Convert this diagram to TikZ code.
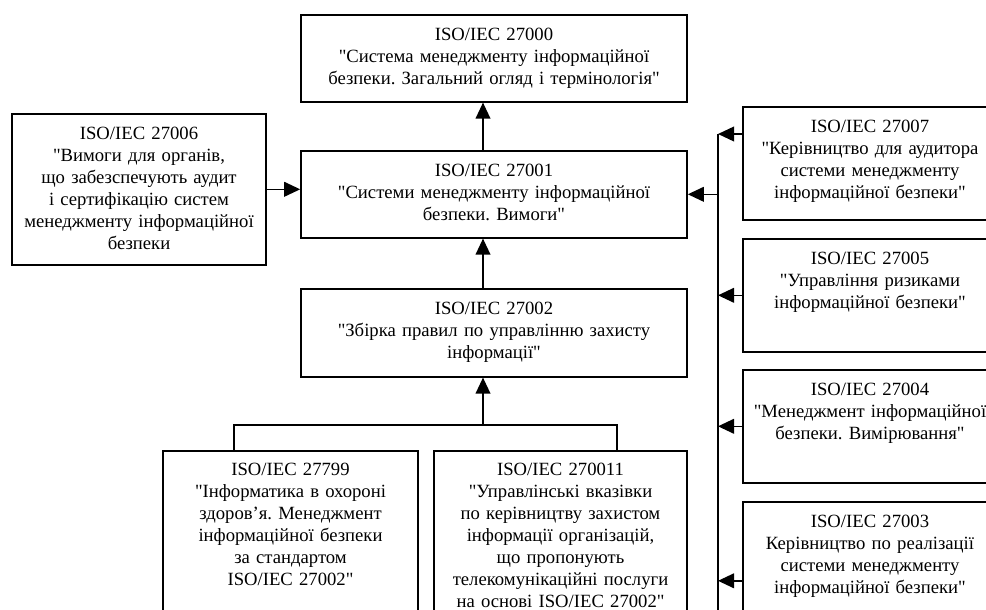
\documentclass[tikz,border=0pt]{standalone}
\usepackage{fontspec}
\newfontfamily\lserif{Liberation Serif}
\usepackage{tikz}
\usetikzlibrary{arrows.meta,positioning}
\frenchspacing

\begin{document}
\begin{tikzpicture}[
    x=0.75pt, y=-0.75pt,
    every node/.style={font=\lserif\fontsize{14}{16.5}\selectfont},
    box/.style={draw, line width=1.2pt, anchor=north, align=center, inner sep=0pt, text height=19.5pt},
    mid/.style={box, text width=289.5pt},
    side/.style={box, text width=190.5pt, text depth=65.25pt},
    low/.style={box, text height=18.75pt, text depth=131pt},
    line/.style={line width=1.2pt},
    arrow/.style={line, -{Triangle[length=12pt, width=11pt]}}
]
\path[use as bounding box, clip] (0,0) rectangle (986,610);
% central column
\node[mid, text depth=45.75pt] (n27000) at (494,14) {ISO/IEC 27000\\"Система менеджменту інформаційної\\безпеки. Загальний огляд і термінологія"};
\node[mid, text depth=45.75pt] (n27001) at (494,150) {ISO/IEC 27001\\"Системи менеджменту інформаційної\\безпеки. Вимоги"};
\node[mid, text depth=46.5pt] (n27002) at (494,288) {ISO/IEC 27002\\"Збірка правил по управлінню захисту\\інформації"};
% left
\node[box, text width=190.5pt, text depth=93.75pt] (n27006) at (139,113) {ISO/IEC 27006\\"Вимоги для органів,\\що забезспечують аудит\\і сертифікацію систем\\менеджменту інформаційної\\безпеки};
% right column
\node[side] (n27007) at (870,106) {ISO/IEC 27007\\"Керівництво для аудитора\\системи менеджменту\\інформаційної безпеки"};
\node[side] (n27005) at (870,238) {ISO/IEC 27005\\"Управління ризиками\\інформаційної безпеки"};
\node[side] (n27004) at (870,369) {ISO/IEC 27004\\"Менеджмент інформаційної\\безпеки. Вимірювання"};
\node[side, text depth=99pt] (n27003) at (870,501) {ISO/IEC 27003\\Керівництво по реалізації\\системи менеджменту\\інформаційної безпеки"};
% bottom row
\node[low, text width=191.25pt] (n27799) at (290.5,450) {ISO/IEC 27799\\"Інформатика в охороні\\здоров’я. Менеджмент\\інформаційної безпеки\\за стандартом\\ISO/IEC 27002"};
\node[low, text width=189.75pt] (n270011) at (560.5,450) {ISO/IEC 270011\\"Управлінські вказівки\\по керівництву захистом\\інформації організацій,\\що пропонують\\телекомунікаційні послуги\\на основі ISO/IEC 27002"};
\coordinate (join) at (483,425);
\coordinate (bus) at (718,134);
\coordinate (busend) at (718,620);
% connectors
\draw[arrow] ([xshift=-8.25pt]n27001.north) -- ([xshift=-8.25pt]n27000.south);
\draw[arrow] ([xshift=-8.25pt]n27002.north) -- ([xshift=-8.25pt]n27001.south);
\draw[arrow] (n27006.east) -- (n27006.east -| n27001.west);
\draw[line] ([xshift=-42.4pt]n27799.north) |- (join) -| ([xshift=42.4pt]n270011.north);
\draw[arrow] (join) -- (join |- n27002.south);
\draw[line] (bus) -- (busend);
\draw[arrow] (bus |- n27001.east) -- (n27001.east);
\draw[arrow] (n27007.west |- bus) -- (bus);
\draw[arrow] (n27005.west) -- (n27005.west -| bus);
\draw[arrow] (n27004.west) -- (n27004.west -| bus);
\draw[arrow] (n27003.west) -- (n27003.west -| bus);
\end{tikzpicture}
\end{document}
